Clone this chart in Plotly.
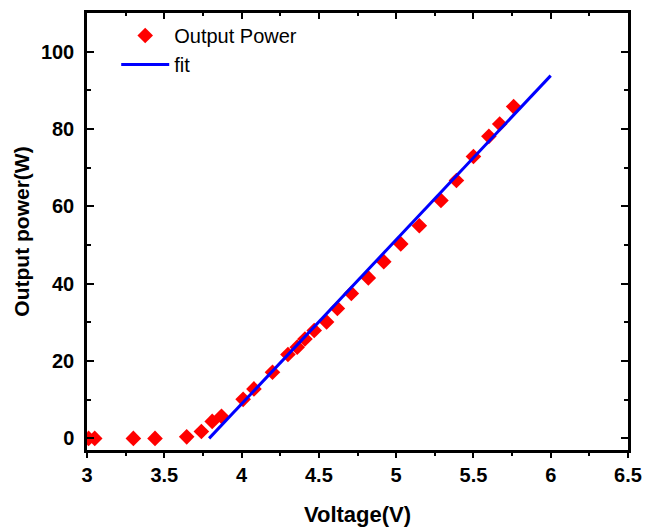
import plotly.graph_objects as go

voltage = [3.01, 3.05, 3.30, 3.44, 3.645, 3.74, 3.81, 3.87, 4.01, 4.08, 4.20, 4.30, 4.36,
           4.41, 4.47, 4.55, 4.62, 4.71, 4.82, 4.92, 5.03, 5.15, 5.29, 5.39, 5.50, 5.60,
           5.67, 5.76]
power = [0.0, 0.0, 0.0, 0.0, 0.4, 1.8, 4.4, 5.7, 10.1, 12.8, 17.1, 21.7, 23.6,
         25.7, 27.9, 30.1, 33.6, 37.5, 41.5, 45.7, 50.3, 55.0, 61.5, 66.7, 72.9, 78.1,
         81.3, 85.8]
fit_x = [3.79, 6.0]
fit_y = [0.0, 93.8]

x_ticks = [3, 3.5, 4, 4.5, 5, 5.5, 6, 6.5]
y_ticks = [0, 20, 40, 60, 80, 100]

FONT = "Liberation Sans"

fig = go.Figure()
fig.add_trace(go.Scatter(
    x=voltage, y=power, mode="markers", name="Output Power",
    marker=dict(symbol="diamond", size=12, color="#ff0000", line=dict(width=0)),
))
fig.add_trace(go.Scatter(
    x=fit_x, y=fit_y, mode="lines", name="fit",
    line=dict(color="#0000ff", width=3),
))

axis_common = dict(
    showline=True, linecolor="black", linewidth=2.5, automargin=False,
    showgrid=False, zeroline=False, tickcolor="black", tickwidth=2,
)

fig.update_layout(
    width=645, height=527,
    margin=dict(l=87, r=17, t=13, b=77),
    plot_bgcolor="white", paper_bgcolor="white",
    font=dict(family=FONT, color="black"),
    showlegend=True,
    legend=dict(
        x=0.054, y=0.993, xanchor="left", yanchor="top",
        bgcolor="rgba(0,0,0,0)", font=dict(family=FONT, size=20, color="black"),
        itemwidth=48, tracegroupgap=0,
    ),
    xaxis=dict(
        **axis_common,
        range=[3, 6.5], tickvals=x_ticks, ticktext=[str(v) for v in x_ticks],
        ticks="outside", ticklen=5,
        minor=dict(ticks="outside", ticklen=3, dtick=0.25, tickcolor="black", tickwidth=2),
        tickfont=dict(family=FONT, size=20, color="black", weight="bold"),
        title=dict(text="<b>Voltage(V)</b>", font=dict(family=FONT, size=22, color="black"), standoff=22),
    ),
    xaxis2=dict(
        **axis_common,
        overlaying="x", side="top", matches="x", range=[3, 6.5],
        tickvals=x_ticks, showticklabels=False,
        ticks="inside", ticklen=6,
        minor=dict(ticks="inside", ticklen=3, dtick=0.25, tickcolor="black", tickwidth=2),
    ),
    yaxis=dict(
        **axis_common,
        range=[-3, 110], tickvals=y_ticks,
        ticks="inside", ticklen=7, mirror="ticks",
        minor=dict(ticks="inside", ticklen=4, dtick=10, tickcolor="black", tickwidth=2),
        tickfont=dict(family=FONT, size=20, color="black", weight="bold"),
        ticklabelstandoff=6,
        title=dict(text="<b>Output power(W)</b>", font=dict(family=FONT, size=21, color="black"), standoff=6),
    ),
)

fig.add_trace(go.Scatter(x=[3], y=[-100], xaxis="x2", mode="markers", showlegend=False,
                         hoverinfo="skip", marker=dict(opacity=0)))

fig.write_html("out.html", config={"displayModeBar": False},
               post_script="document.body.style.margin='0';")
